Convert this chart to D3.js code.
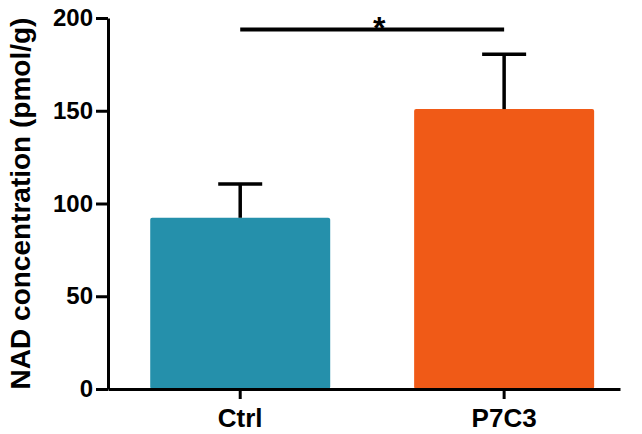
<!DOCTYPE html>
<html>
<head>
<meta charset="utf-8">
<script src="https://cdn.jsdelivr.net/npm/d3@7"></script>
<style>
  body { margin: 0; background: #fff; }
  text { font-family: "Liberation Sans", Arial, sans-serif; font-weight: bold; }
</style>
</head>
<body>
<div id="chart"></div>
<script>
// data
var groups = ["Ctrl", "P7C3"];
var means = [92.3, 150.9];
var errors = [18.2, 29.5];
var yTicks = [0, 50, 100, 150, 200];
var colors = ["#2590ab", "#f05a17"];
var yLabel = "NAD concentration (pmol/g)";
var sigMark = "*";

var W = 642, H = 434;
var svg = d3.select("#chart").append("svg")
    .attr("width", W)
    .attr("height", H);

// scales
var x = d3.scaleBand()
    .domain(groups)
    .range([108, 620])
    .paddingInner(0.318)
    .paddingOuter(0.129)
    .align(0.62);

var y = d3.scaleLinear()
    .domain([0, 200])
    .range([389, 18]);

// bars
svg.selectAll(".bar")
  .data(groups)
  .enter()
  .append("rect")
    .attr("class", "bar")
    .attr("x", function(d) { return x(d); })
    .attr("width", x.bandwidth())
    .attr("y", function(d, i) { return y(means[i]); })
    .attr("height", function(d, i) { return y(0) - y(means[i]); })
    .attr("rx", 2)
    .style("fill", function(d, i) { return colors[i]; });

// error bars (upper only)
var cap = 22;
svg.selectAll(".err")
  .data(groups)
  .enter()
  .append("line")
    .attr("x1", function(d) { return x(d) + x.bandwidth() / 2; })
    .attr("x2", function(d) { return x(d) + x.bandwidth() / 2; })
    .attr("y1", function(d, i) { return y(means[i]); })
    .attr("y2", function(d, i) { return y(means[i] + errors[i]); })
    .attr("stroke", "#000")
    .attr("stroke-width", 3.5);

svg.selectAll(".cap")
  .data(groups)
  .enter()
  .append("line")
    .attr("x1", function(d) { return x(d) + x.bandwidth() / 2 - cap; })
    .attr("x2", function(d) { return x(d) + x.bandwidth() / 2 + cap; })
    .attr("y1", function(d, i) { return y(means[i] + errors[i]); })
    .attr("y2", function(d, i) { return y(means[i] + errors[i]); })
    .attr("stroke", "#000")
    .attr("stroke-width", 3.5);

// y axis
var yAxis = svg.append("g")
    .attr("transform", "translate(108,0)")
    .call(d3.axisLeft(y).tickValues(yTicks).tickSize(12).tickSizeOuter(0).tickPadding(3));
yAxis.selectAll("path, line").attr("stroke", "#000").attr("stroke-width", 3);
yAxis.selectAll("text")
    .style("font-size", "24px")
    .attr("fill", "#000");

// x axis
var xAxis = svg.append("g")
    .attr("transform", "translate(0,389)")
    .call(d3.axisBottom(x).tickSize(10).tickSizeOuter(0).tickPadding(10));
xAxis.selectAll("path, line").attr("stroke", "#000").attr("stroke-width", 3);
xAxis.selectAll("text")
    .style("font-size", "26px")
    .attr("fill", "#000");

// y label
svg.append("text")
    .attr("transform", "translate(30," + ((y(0) + y(200)) / 2) + ") rotate(-90)")
    .attr("text-anchor", "middle")
    .style("font-size", "28px")
    .attr("fill", "#000")
    .text(yLabel);

// significance bracket
var c0 = x(groups[0]) + x.bandwidth() / 2,
    c1 = x(groups[1]) + x.bandwidth() / 2;
svg.append("line")
    .attr("x1", c0)
    .attr("x2", c1)
    .attr("y1", 29.5)
    .attr("y2", 29.5)
    .attr("stroke", "#000")
    .attr("stroke-width", 4);
svg.append("text")
    .attr("x", (c0 + c1) / 2 + 7)
    .attr("y", 39)
    .attr("text-anchor", "middle")
    .style("font-size", "32px")
    .attr("fill", "#000")
    .text(sigMark);
</script>
</body>
</html>
